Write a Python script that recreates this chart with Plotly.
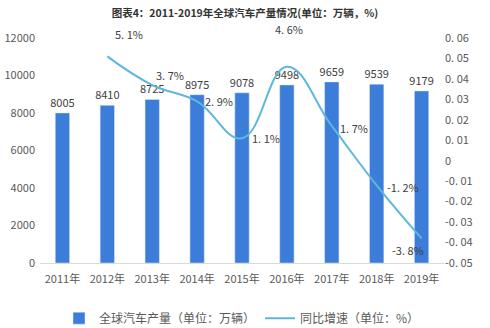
import plotly.graph_objects as go

years = ["2011年", "2012年", "2013年", "2014年", "2015年", "2016年", "2017年", "2018年", "2019年"]
production = [8005, 8410, 8725, 8975, 9078, 9498, 9659, 9539, 9179]
growth_years = years[1:]
growth = [0.051, 0.037, 0.029, 0.011, 0.046, 0.017, -0.012, -0.038]
growth_labels = ["5. 1%", "3. 7%", "2. 9%", "1. 1%", "4. 6%", "1. 7%", "-1. 2%", "-3. 8%"]
y2_ticks = [0.06, 0.05, 0.04, 0.03, 0.02, 0.01, 0, -0.01, -0.02, -0.03, -0.04, -0.05]
y2_ticktext = ["0. 06", "0. 05", "0. 04", "0. 03", "0. 02", "0. 01", "0",
               "-0. 01", "-0. 02", "-0. 03", "-0. 04", "-0. 05"]

BAR = "#3b7dd8"
LINE = "#5cb8dc"
TXT = "#595959"

fig = go.Figure()
fig.add_trace(go.Bar(
    x=years, y=production, name="全球汽车产量（单位：万辆）",
    marker_color=BAR, width=0.32,
    text=[str(v) for v in production], textposition="outside",
    constraintext="none",
    textfont=dict(size=11, color="#404040"), cliponaxis=False,
))
fig.add_trace(go.Scatter(
    x=growth_years, y=growth, name="同比增速（单位：%）", yaxis="y2",
    mode="lines", line=dict(color=LINE, width=2, shape="spline", smoothing=1.2),
))

# label offsets (px) relative to each point
offs = [(22, 22), (18, 10), (22, 0), (24, 0), (2, 38), (22, -2), (26, -2), (-14, -12)]
for x, y, t, (dx, dy) in zip(growth_years, growth, growth_labels, offs):
    fig.add_annotation(x=x, y=y, yref="y2", text=t, showarrow=False,
                       xshift=dx, yshift=dy, font=dict(size=11, color="#404040"))

fig.update_layout(
    width=490, height=328,
    margin=dict(l=40, r=46, t=38, b=65, autoexpand=False),
    paper_bgcolor="white", plot_bgcolor="white",
    font=dict(family="Noto Sans CJK SC", color=TXT, size=11),
    title=dict(text="<b>图表4：2011-2019年全球汽车产量情况(单位：万辆，%)</b>",
               x=0.5, xanchor="center", y=0.96, yanchor="middle",
               font=dict(size=10.5, color="#333333")),
    xaxis=dict(showgrid=False, showline=True, linecolor="#d9d9d9", ticks="",
               ticklabelstandoff=6, tickfont=dict(size=11, color=TXT)),
    yaxis=dict(range=[0, 12000], dtick=2000, tickformat="d", showgrid=False,
               zeroline=False, ticklabelstandoff=4, tickfont=dict(size=11, color=TXT)),
    yaxis2=dict(overlaying="y", side="right", range=[-0.05, 0.06],
                tickvals=y2_ticks, ticktext=y2_ticktext, showgrid=False,
                zeroline=False, tickfont=dict(size=11, color=TXT)),
    legend=dict(orientation="h", x=0.5, xanchor="center", yref="container",
                y=0.03, yanchor="middle", font=dict(size=12, color=TXT)),
    showlegend=True,
)

fig.write_html("out.html")
